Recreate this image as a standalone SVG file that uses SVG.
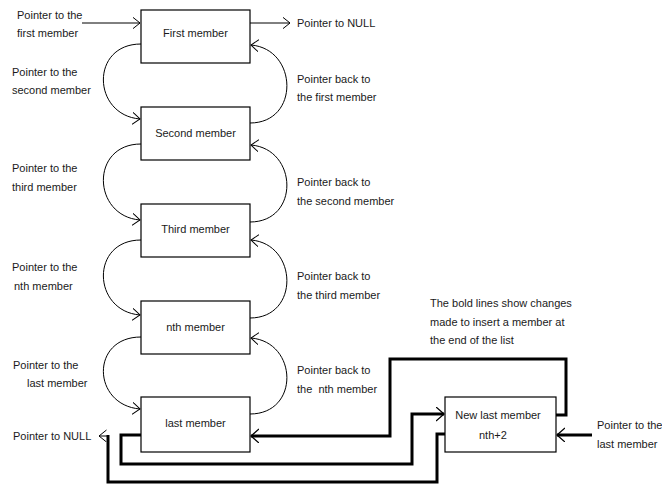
<svg xmlns="http://www.w3.org/2000/svg" width="662" height="485" viewBox="0 0 662 485">
<defs>
<style>
text{font-family:"Liberation Sans",Arial,sans-serif;font-size:11px;fill:#1a1a1a}
.box{fill:#fff;stroke:#000;stroke-width:1.2}
.thin{fill:none;stroke:#000;stroke-width:1}
.bold{fill:none;stroke:#000;stroke-width:3}
.c{text-anchor:middle}
</style>
<marker id="a" markerUnits="userSpaceOnUse" markerWidth="10" markerHeight="14" refX="7.5" refY="6" orient="auto">
<path d="M0,0 L7.5,6 L0,12" fill="none" stroke="#000" stroke-width="1"/>
</marker>
<marker id="b" markerUnits="userSpaceOnUse" markerWidth="12" markerHeight="16" refX="8" refY="7" orient="auto">
<path d="M0,0 L8,7 L0,14" fill="none" stroke="#000" stroke-width="1.3"/>
</marker>
</defs>
<rect width="662" height="485" fill="#fff"/>
<g id="connectors">
<path class="thin" d="M82,23 H140" marker-end="url(#a)"/>
<path class="thin" d="M250,23 H290" marker-end="url(#a)"/>
<path class="thin" d="M141,44 C90,44 92,115 140,119" marker-end="url(#a)"/>
<path class="thin" d="M141,144 C90,144 92,216 140,220" marker-end="url(#a)"/>
<path class="thin" d="M141,240 C90,240 92,311 140,315" marker-end="url(#a)"/>
<path class="thin" d="M141,337 C90,337 92,405 140,409" marker-end="url(#a)"/>
<path class="thin" d="M250,123 C300,123 298,49 251,45" marker-end="url(#a)"/>
<path class="thin" d="M250,222 C300,222 298,149 251,145" marker-end="url(#a)"/>
<path class="thin" d="M250,318 C300,318 298,244 251,240" marker-end="url(#a)"/>
<path class="thin" d="M250,414 C300,414 298,342 251,338" marker-end="url(#a)"/>
<path class="bold" d="M556,415 H566 V359 H390 V436 H251" marker-end="url(#b)"/>
<path class="bold" d="M141,435 H121 V464 H412 V414 H444" marker-end="url(#b)"/>
<path class="bold" d="M445,434 H437 V482 H108 V435"/>
<path class="thin" d="M108,436 H99" marker-end="url(#a)"/>
<path class="bold" d="M592,435 H557" marker-end="url(#b)"/>
</g>
<g id="n1"><rect class="box" x="141" y="10" width="109" height="53"/><text class="c" x="195.5" y="37">First member</text></g>
<g id="n2"><rect class="box" x="141" y="107" width="109" height="53"/><text class="c" x="195.5" y="137">Second member</text></g>
<g id="n3"><rect class="box" x="141" y="204" width="109" height="53"/><text class="c" x="195.5" y="233">Third member</text></g>
<g id="n4"><rect class="box" x="141" y="301" width="109" height="53"/><text class="c" x="195.5" y="331">nth member</text></g>
<g id="n5"><rect class="box" x="141" y="397" width="109" height="55"/><text class="c" x="195.5" y="427">last member</text></g>
<g id="n6"><rect class="box" x="445" y="397" width="111" height="55"/><text class="c" x="498" y="419">New last member</text><text x="479" y="439">nth+2</text></g>
<g id="labels">
<text x="17" y="19">Pointer to the</text>
<text x="17" y="37">first member</text>
<text x="297" y="27">Pointer to NULL</text>
<text x="12" y="76">Pointer to the</text>
<text x="12" y="94">second member</text>
<text x="12" y="172">Pointer to the</text>
<text x="12" y="191">third member</text>
<text x="12" y="271">Pointer to the</text>
<text x="14" y="290">nth member</text>
<text x="13" y="369">Pointer to the</text>
<text x="27" y="387">last member</text>
<text x="13" y="440">Pointer to NULL</text>
<text x="297" y="83">Pointer back to</text>
<text x="297" y="101">the first member</text>
<text x="297" y="186">Pointer back to</text>
<text x="297" y="205">the second member</text>
<text x="297" y="280">Pointer back to</text>
<text x="297" y="299">the third member</text>
<text x="297" y="374">Pointer back to</text>
<text x="297" y="393" xml:space="preserve">the  nth member</text>
<text x="430" y="307">The bold lines show changes</text>
<text x="430" y="326">made to insert a member at</text>
<text x="430" y="344">the end of the list</text>
<text x="597" y="429">Pointer to the</text>
<text x="597" y="448">last member</text>
</g>
</svg>
